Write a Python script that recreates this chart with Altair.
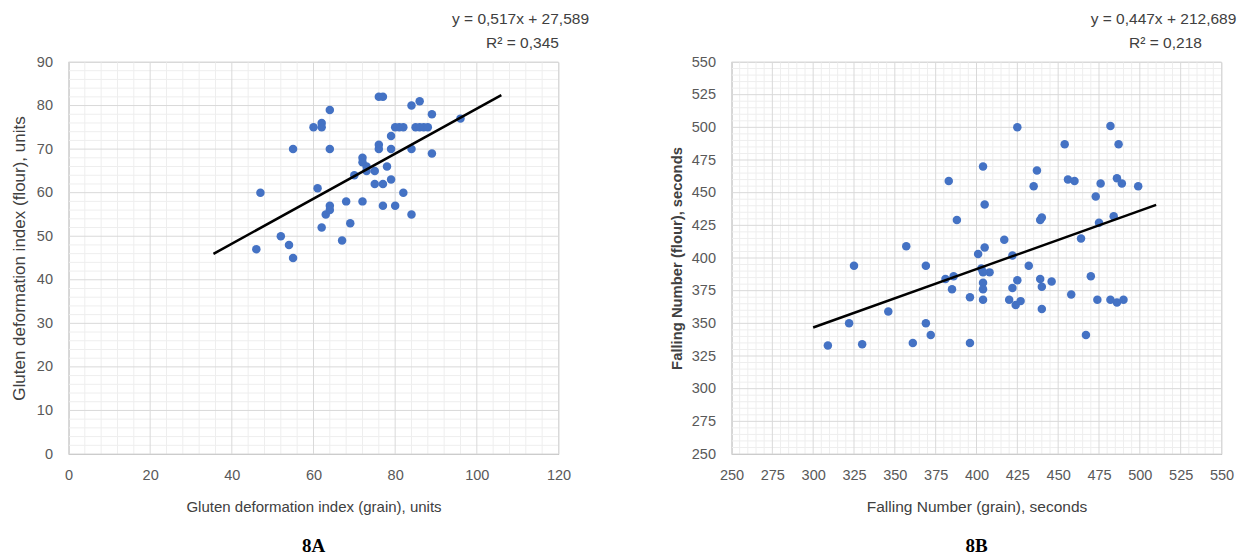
import altair as alt
import pandas as pd

FONT = "Liberation Sans, Arial, sans-serif"

# ---------------- Panel 8A data ----------------
a_x = [46, 47, 52, 54, 55, 55, 60, 61, 62, 62, 62, 63, 64, 64, 64, 64, 67, 68, 69, 70,
       72, 72, 72, 73, 73, 75, 75, 76, 77, 76, 76, 77, 77, 78, 79, 79, 79, 80, 80, 81,
       82, 82, 84, 84, 84, 85, 86, 86, 87, 88, 89, 89, 96]
a_y = [47, 60, 50, 48, 45, 70, 75, 61, 52, 76, 75, 55, 57, 56, 70, 79, 49, 58, 53, 64,
       58, 68, 67, 66, 65, 65, 62, 82, 82, 71, 70, 62, 57, 66, 73, 70, 63, 75, 57, 75,
       75, 60, 80, 70, 55, 75, 81, 75, 75, 75, 78, 69, 77]
a_slope, a_intercept = 0.517, 27.589
a_line_x = [35.5, 106]
a_eq = "y = 0,517x + 27,589"
a_r2 = "R² = 0,345"
a_xticks = [0, 20, 40, 60, 80, 100, 120]
a_yticks = [0, 10, 20, 30, 40, 50, 60, 70, 80, 90]
a_xminor = [v for v in range(0, 121, 4) if v % 20]
a_yminor = [v for v in range(0, 91, 2) if v % 10]

# ---------------- Panel 8B data ----------------
b_x = [325, 357, 369, 383, 388, 401, 404, 425, 482, 487, 454, 437, 435, 456, 460, 476,
       486, 489, 499, 473, 405, 440, 439, 484, 475, 417, 464, 405, 422, 432, 403, 408,
       404, 470, 425, 439, 446, 404, 404, 396, 404, 420, 422, 424, 427, 440, 440, 458,
       474, 482, 486, 490, 467, 396, 381, 386, 385, 346, 322, 369, 372, 309, 330, 361]
b_y = [394, 409, 394, 459, 429, 403, 470, 500, 501, 487, 487, 467, 455, 460, 459, 457,
       461, 457, 455, 447, 441, 431, 429, 432, 427, 414, 415, 408, 402, 394, 392, 389,
       389, 386, 383, 384, 382, 381, 376, 370, 368, 368, 377, 364, 367, 378, 361, 372,
       368, 368, 366, 368, 341, 335, 384, 386, 376, 359, 350, 350, 341, 333, 334, 335]
b_slope, b_intercept = 0.447, 212.689
b_line_x = [300, 510]
b_eq = "y = 0,447x + 212,689"
b_r2 = "R² = 0,218"
b_xticks = list(range(250, 551, 25))
b_yticks = list(range(250, 551, 25))
b_xminor = [v for v in range(250, 551, 5) if v % 25]
b_yminor = [v for v in range(250, 551, 5) if v % 25]

W, H = 490, 392


def panel(px, py, slope, intercept, line_x, xdom, ydom, xticks, yticks, xminor, yminor,
          xtitle, ytitle, xtitle_size, ytitle_size, ytitle_weight, ytitle_pad, eq, r2, eq_x, tag):
    xs = alt.Scale(domain=xdom, nice=False, zero=False)
    ys = alt.Scale(domain=ydom, nice=False, zero=False)
    xa = alt.Axis(values=xticks, title=xtitle, grid=False, ticks=False, labelPadding=14,
                  labelFlush=False, labelOverlap=False,
                  titlePadding=18, titleFontSize=xtitle_size, titleFontWeight="normal")
    ya = alt.Axis(values=yticks, title=ytitle, grid=False, ticks=False, labelPadding=16,
                  labelFlush=False, labelOverlap=False,
                  titlePadding=ytitle_pad, titleFontSize=ytitle_size, titleFontWeight=ytitle_weight)

    def gx(values, color):
        return alt.Chart(pd.DataFrame({"v": values})).mark_rule(color=color, strokeWidth=1).encode(
            x=alt.X("v:Q", scale=xs, axis=xa))

    def gy(values, color):
        return alt.Chart(pd.DataFrame({"v": values})).mark_rule(color=color, strokeWidth=1).encode(
            y=alt.Y("v:Q", scale=ys, axis=ya))

    layers = [gx(xminor, "#eeeeee"), gy(yminor, "#eeeeee"), gx(xticks, "#d9d9d9"), gy(yticks, "#d9d9d9")]
    pts = alt.Chart(pd.DataFrame({"x": px, "y": py})).mark_circle(
        size=72, color="#4472C4", opacity=1
    ).encode(x=alt.X("x:Q", scale=xs, axis=xa), y=alt.Y("y:Q", scale=ys, axis=ya))
    ly = [slope * v + intercept for v in line_x]
    line = alt.Chart(pd.DataFrame({"x": line_x, "y": ly})).mark_line(
        color="black", strokeWidth=2.5
    ).encode(x=alt.X("x:Q", scale=xs, axis=xa), y=alt.Y("y:Q", scale=ys, axis=ya))
    t1 = alt.Chart(pd.DataFrame({"t": [eq]})).mark_text(
        font=FONT, fontSize=15.5, color="#404040", align="center", baseline="middle"
    ).encode(text="t:N", x=alt.value(eq_x), y=alt.value(-43))
    t2 = alt.Chart(pd.DataFrame({"t": [r2]})).mark_text(
        font=FONT, fontSize=15.5, color="#404040", align="center", baseline="middle"
    ).encode(text="t:N", x=alt.value(eq_x + 2), y=alt.value(-19))
    return alt.layer(*layers, pts, line, t1, t2).properties(
        width=W, height=H,
        title=alt.TitleParams(tag, orient="bottom", font="Liberation Serif, Times New Roman, serif",
                              fontSize=19, fontWeight="bold", color="black", frame="group",
                              anchor="middle", offset=22),
    )


pa = panel(a_x, a_y, a_slope, a_intercept, a_line_x, [0, 120], [0, 90], a_xticks, a_yticks,
           a_xminor, a_yminor, "Gluten deformation index (grain), units",
           "Gluten deformation index (flour), units", 15, 17, "normal", 7.5, a_eq, a_r2, 452, "8A")
pb = panel(b_x, b_y, b_slope, b_intercept, b_line_x, [250, 550], [250, 550], b_xticks, b_yticks,
           b_xminor, b_yminor, "Falling Number (grain), seconds",
           "Falling Number (flour), seconds", 15.5, 14.8, "bold", 7.3, b_eq, b_r2, 432, "8B")

chart = alt.hconcat(pa, pb, spacing=78).properties(
    padding={"left": 1.5, "top": 3, "right": 0, "bottom": 0}
).configure_view(
    stroke="#d9d9d9"
).configure_axis(
    labelFont=FONT, labelFontSize=14.5, labelColor="#595959",
    titleFont=FONT, titleColor="#404040", domainColor="#bfbfbf",
)

chart.save("out.html", embed_options={"renderer": "svg", "actions": False})
